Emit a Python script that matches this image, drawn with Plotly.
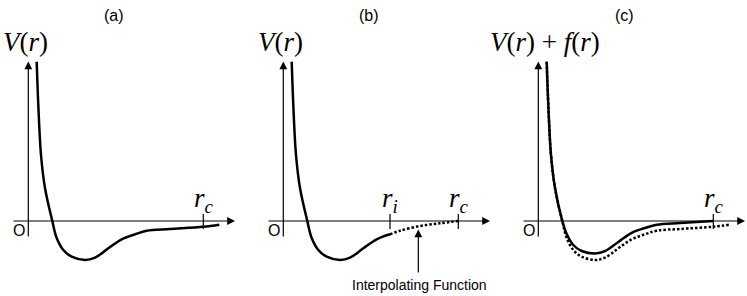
import plotly.graph_objects as go

# ---- data (r in panel units, origin at the axes crossing) ----
r_vals = [8.4, 10, 12.7, 16.7, 24, 28.4, 35, 43.4, 56.7, 66.7, 80, 93.4, 106.7, 118.4, 141.7, 175, 191]
V_vals = [159.3, 116, 66, 33, 0, -17, -29, -35.7, -39, -36.7, -27.3, -18.3, -13.3, -9.7, -8, -5.7, -3.7]

r_i = 106.7
r_c = 175

interp_r = [106.7, 116.7, 136.7, 156.7, 175]
interp_v = [-13.3, -9.7, -5, -2.3, 0]

c_solid_r = [8.4, 10, 12.7, 16.7, 24, 28.4, 35, 43.4, 56.7, 66.7, 80, 93.4, 106.7, 118.4, 141.7, 175]
c_solid_v = [159.3, 116, 66, 33, 0, -13, -24, -30, -32.5, -30.2, -21, -11.8, -7, -3.7, -2, 0]

panel_titles = ["(a)", "(b)", "(c)"]
y_labels = ["<i>V</i>(<i>r</i>)", "<i>V</i>(<i>r</i>)", "<i>V</i>(<i>r</i>) + <i>f</i>(<i>r</i>)"]
y_label_x = [-2.8, -2.6, 6.7]

# axis geometry (panel units)
x_axis_start, x_axis_end = -16.3, 206.7
y_axis_start, y_axis_end = -17, 159.5
tick_half_up, tick_half_down = 7, -8

W, H = 747, 296
panel_px = [(0, 250, 28.3), (250, 497, 283.3), (497, 747, 538.3)]

fig = go.Figure()
BLACK = "black"
serif = "Liberation Serif"
sans = "Liberation Sans"

axes = ["x", "x2", "x3"]

# panel (a) curve
fig.add_trace(go.Scatter(x=r_vals, y=V_vals, mode="lines", xaxis="x", yaxis="y",
                         line=dict(color=BLACK, width=2.5, shape="spline")))
# panel (b) solid part (r <= r_i)
b_r = [r for r in r_vals if r <= r_i]
b_v = [v for r, v in zip(r_vals, V_vals) if r <= r_i]
fig.add_trace(go.Scatter(x=b_r, y=b_v, mode="lines", xaxis="x2", yaxis="y",
                         line=dict(color=BLACK, width=2.5, shape="spline")))
fig.add_trace(go.Scatter(x=interp_r, y=interp_v, mode="lines", xaxis="x2", yaxis="y",
                         line=dict(color=BLACK, width=2.5, shape="spline", dash="2.5px,2px")))
# panel (c)
fig.add_trace(go.Scatter(x=r_vals, y=V_vals, mode="lines", xaxis="x3", yaxis="y",
                         line=dict(color=BLACK, width=2.5, shape="spline", dash="2.5px,2px")))
fig.add_trace(go.Scatter(x=c_solid_r, y=c_solid_v, mode="lines", xaxis="x3", yaxis="y",
                         line=dict(color=BLACK, width=2.5, shape="spline")))

# ticks
tick_sets = [[r_c], [r_i, r_c], [r_c]]
for ax, ticks in zip(axes, tick_sets):
    for t in ticks:
        fig.add_trace(go.Scatter(x=[t, t], y=[tick_half_down, tick_half_up], mode="lines",
                                 xaxis=ax, yaxis="y", line=dict(color=BLACK, width=1.2)))

annotations = []
for i, ax in enumerate(axes):
    # x axis arrow
    annotations.append(dict(x=x_axis_end, y=0, ax=x_axis_start, ay=0, xref=ax, yref="y",
                            axref=ax, ayref="y", text="", showarrow=True, arrowhead=2,
                            arrowsize=1.3, arrowwidth=1.2, arrowcolor=BLACK, standoff=0))
    # y axis arrow
    annotations.append(dict(x=0, y=y_axis_end, ax=0, ay=y_axis_start, xref=ax, yref="y",
                            axref=ax, ayref="y", text="", showarrow=True, arrowhead=2,
                            arrowsize=1.3, arrowwidth=1.2, arrowcolor=BLACK, standoff=0))
    # O
    annotations.append(dict(x=-9.6, y=-9.5, xref=ax, yref="y", text="O", showarrow=False,
                            font=dict(family=sans, size=16, color=BLACK)))
    # title
    annotations.append(dict(x=86, y=206, xref=ax, yref="y", text=panel_titles[i], showarrow=False,
                            font=dict(family=sans, size=16, color=BLACK)))
    # y label
    annotations.append(dict(x=y_label_x[i], y=179, xref=ax, yref="y", text=y_labels[i],
                            showarrow=False, font=dict(family=serif, size=27, color=BLACK)))
    # r_c label
    annotations.append(dict(x=r_c + 0.5, y=21, xref=ax, yref="y",
                            text="<i>r</i><sub><i>c</i></sub>", showarrow=False,
                            font=dict(family=serif, size=27, color=BLACK)))

annotations.append(dict(x=r_i, y=21, xref="x2", yref="y", text="<i>r</i><sub><i>i</i></sub>",
                        showarrow=False, font=dict(family=serif, size=27, color=BLACK)))
# interpolating function arrow and label
annotations.append(dict(x=135, y=-8.5, ax=135, ay=-53, xref="x2", yref="y", axref="x2", ayref="y",
                        text="", showarrow=True, arrowhead=2, arrowsize=1.3, arrowwidth=1.2,
                        arrowcolor=BLACK, standoff=0))
annotations.append(dict(x=135.7, y=-64, xref="x2", yref="y", text="Interpolating Function",
                        showarrow=False, font=dict(family=sans, size=14, color=BLACK)))

layout_axes = {}
for i, (ax, (p0, p1, ox)) in enumerate(zip(axes, panel_px)):
    key = "xaxis" if i == 0 else f"xaxis{i+1}"
    layout_axes[key] = dict(domain=[p0 / W, p1 / W], range=[p0 - ox, p1 - ox], visible=False,
                            anchor="y", fixedrange=True)

fig.update_layout(
    width=W, height=H, autosize=False,
    margin=dict(l=0, r=0, t=0, b=0, pad=0),
    paper_bgcolor="white", plot_bgcolor="white",
    showlegend=False,
    yaxis=dict(range=[221 - H, 221], visible=False, fixedrange=True),
    annotations=annotations,
    **layout_axes,
)

fig.write_html("out.html", config={"displayModeBar": False},
               post_script="document.body.style.margin='0px';document.body.style.overflow='hidden';")
